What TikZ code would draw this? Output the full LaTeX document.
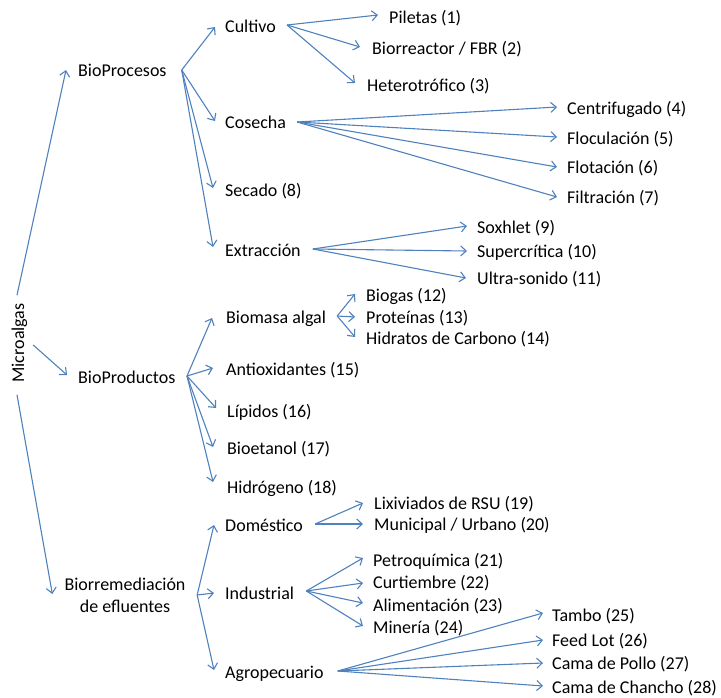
\documentclass[tikz,border=0pt]{standalone}
\usepackage{fontspec}
\setmainfont{Carlito}
\usetikzlibrary{arrows.meta}
\definecolor{lineblue}{HTML}{4F81BD}
\tikzset{
  lbl/.style={anchor=west, inner sep=0pt, text height=12pt, text depth=0pt, font=\fontsize{18}{22}\selectfont, text=black},
  arr/.style={draw=lineblue, line width=1.1pt, -{Straight Barb[length=5.5pt,width=10pt]}}
}
\begin{document}
\begin{tikzpicture}[x=1pt,y=-1pt]
\useasboundingbox (0,0) rectangle (721,697);
% level 0
\node[lbl, anchor=center, rotate=90] (micro) at (18,343) {Microalgas};
% level 1
\node[lbl] (bproc) at (78,70) {BioProcesos};
\node[lbl] (bprod) at (78,377) {BioProductos};
\node[anchor=center, inner sep=0pt, align=center, font=\fontsize{18}{22}\selectfont] (biorr) at (125,595) {Biorremediación\\de efluentes};
% BioProcesos children
\node[lbl] (cult) at (225,26) {Cultivo};
\node[lbl] (cos) at (225,122) {Cosecha};
\node[lbl] (sec) at (225,190) {Secado (8)};
\node[lbl] (ext) at (225,250) {Extracción};
\node[lbl] (p1) at (389,17) {Piletas (1)};
\node[lbl] (p2) at (372,48) {Biorreactor / FBR (2)};
\node[lbl] (p3) at (367,85) {Heterotrófico (3)};
\node[lbl] (p4) at (567,108) {Centrifugado (4)};
\node[lbl] (p5) at (567,138) {Floculación (5)};
\node[lbl] (p6) at (567,167) {Flotación (6)};
\node[lbl] (p7) at (567,197) {Filtración (7)};
\node[lbl] (p9) at (477,227) {Soxhlet (9)};
\node[lbl] (p10) at (477,251) {Supercrítica (10)};
\node[lbl] (p11) at (477,278) {Ultra-sonido (11)};
% BioProductos children
\node[lbl] (bio) at (226,317) {Biomasa algal};
\node[lbl] (p15) at (226,369) {Antioxidantes (15)};
\node[lbl] (p16) at (227,411) {Lípidos (16)};
\node[lbl] (p17) at (227,448) {Bioetanol (17)};
\node[lbl] (p18) at (227,487) {Hidrógeno (18)};
\node[lbl] (p12) at (366,295) {Biogas (12)};
\node[lbl] (p13) at (366,317) {Proteínas (13)};
\node[lbl] (p14) at (366,338) {Hidratos de Carbono (14)};
% Biorremediacion children
\node[lbl] (dom) at (225,525) {Doméstico};
\node[lbl] (ind) at (225,593) {Industrial};
\node[lbl] (agr) at (225,672) {Agropecuario};
\node[lbl] (p19) at (374,503) {Lixiviados de RSU (19)};
\node[lbl] (p20) at (374,524) {Municipal / Urbano (20)};
\node[lbl] (p21) at (373,560) {Petroquímica (21)};
\node[lbl] (p22) at (373,582) {Curtiembre (22)};
\node[lbl] (p23) at (373,605) {Alimentación (23)};
\node[lbl] (p24) at (373,627) {Minería (24)};
\node[lbl] (p25) at (552,615) {Tambo (25)};
\node[lbl] (p26) at (552,640) {Feed Lot (26)};
\node[lbl] (p27) at (552,663) {Cama de Pollo (27)};
\node[lbl] (p28) at (552,687) {Cama de Chancho (28)};
% connectors
\draw[arr] ([shift={(-1,-8)}]micro.east) -- ([shift={(-12,0)}]bproc.west);
\draw[arr] ([shift={(9,2)}]micro.south) -- ([shift={(-11,-2)}]bprod.west);
\draw[arr] ([shift={(-1,12)}]micro.west) -- ([shift={(-12,-1)}]biorr.west);
% BioProcesos
\draw[arr] ([shift={(15,0)}]bproc.east) -- ([shift={(-10,1)}]cult.west);
\draw[arr] ([shift={(15,0)}]bproc.east) -- ([shift={(-10,-1)}]cos.west);
\draw[arr] ([shift={(15,0)}]bproc.east) -- ([shift={(-12,-2)}]sec.west);
\draw[arr] ([shift={(15,0)}]bproc.east) -- ([shift={(-12,-3)}]ext.west);
\draw[arr] ([shift={(11,-1)}]cult.east) -- ([shift={(-11,-2)}]p1.west);
\draw[arr] ([shift={(11,-1)}]cult.east) -- ([shift={(-12,-1)}]p2.west);
\draw[arr] ([shift={(11,-1)}]cult.east) -- ([shift={(-12,-2)}]p3.west);
\draw[arr] ([shift={(11,0)}]cos.east) -- ([shift={(-10,-1)}]p4.west);
\draw[arr] ([shift={(11,0)}]cos.east) -- ([shift={(-10,-1)}]p5.west);
\draw[arr] ([shift={(11,0)}]cos.east) -- ([shift={(-10,0)}]p6.west);
\draw[arr] ([shift={(11,0)}]cos.east) -- ([shift={(-10,0)}]p7.west);
\draw[arr] ([shift={(12,-1)}]ext.east) -- ([shift={(-10,-1)}]p9.west);
\draw[arr] ([shift={(12,-1)}]ext.east) -- ([shift={(-10,0)}]p10.west);
\draw[arr] ([shift={(12,-1)}]ext.east) -- ([shift={(-11,0)}]p11.west);
% BioProductos
\draw[arr] ([shift={(11.5,-1)}]bprod.east) -- ([shift={(-14,1)}]bio.west);
\draw[arr] ([shift={(11.5,-1)}]bprod.east) -- ([shift={(-13,-1)}]p15.west);
\draw[arr] ([shift={(11.5,-1)}]bprod.east) -- ([shift={(-11,-3)}]p16.west);
\draw[arr] ([shift={(11.5,-1)}]bprod.east) -- ([shift={(-14,-1)}]p17.west);
\draw[arr] ([shift={(11.5,-1)}]bprod.east) -- ([shift={(-14,-5)}]p18.west);
\draw[arr] ([shift={(11,-1)}]bio.east) -- ([shift={(-11,-1)}]p12.west);
\draw[arr] ([shift={(11,-1)}]bio.east) -- ([shift={(-11,0)}]p13.west);
\draw[arr] ([shift={(11,-1)}]bio.east) -- ([shift={(-11,-1)}]p14.west);
% Biorremediacion
\draw[arr] ([shift={(11.5,0)}]biorr.east) -- ([shift={(-11,0)}]dom.west);
\draw[arr] ([shift={(11.5,0)}]biorr.east) -- ([shift={(-11,0)}]ind.west);
\draw[arr] ([shift={(11.5,0)}]biorr.east) -- ([shift={(-11,-2)}]agr.west);
\draw[arr] ([shift={(12,-1)}]dom.east) -- ([shift={(-11,0)}]p19.west);
\draw[arr] ([shift={(12,-1)}]dom.east) -- ([shift={(-11,0)}]p20.west);
\draw[arr] ([shift={(12,-2)}]ind.east) -- ([shift={(-10,-2)}]p21.west);
\draw[arr] ([shift={(12,-2)}]ind.east) -- ([shift={(-10,1)}]p22.west);
\draw[arr] ([shift={(12,-2)}]ind.east) -- ([shift={(-10,-2)}]p23.west);
\draw[arr] ([shift={(12,-2)}]ind.east) -- ([shift={(-10,-1)}]p24.west);
\draw[arr] ([shift={(14,-1)}]agr.east) -- ([shift={(-9,-2)}]p25.west);
\draw[arr] ([shift={(14,-1)}]agr.east) -- ([shift={(-9,0)}]p26.west);
\draw[arr] ([shift={(14,-1)}]agr.east) -- ([shift={(-9,0)}]p27.west);
\draw[arr] ([shift={(14,-1)}]agr.east) -- ([shift={(-9,-1)}]p28.west);
\end{tikzpicture}
\end{document}
